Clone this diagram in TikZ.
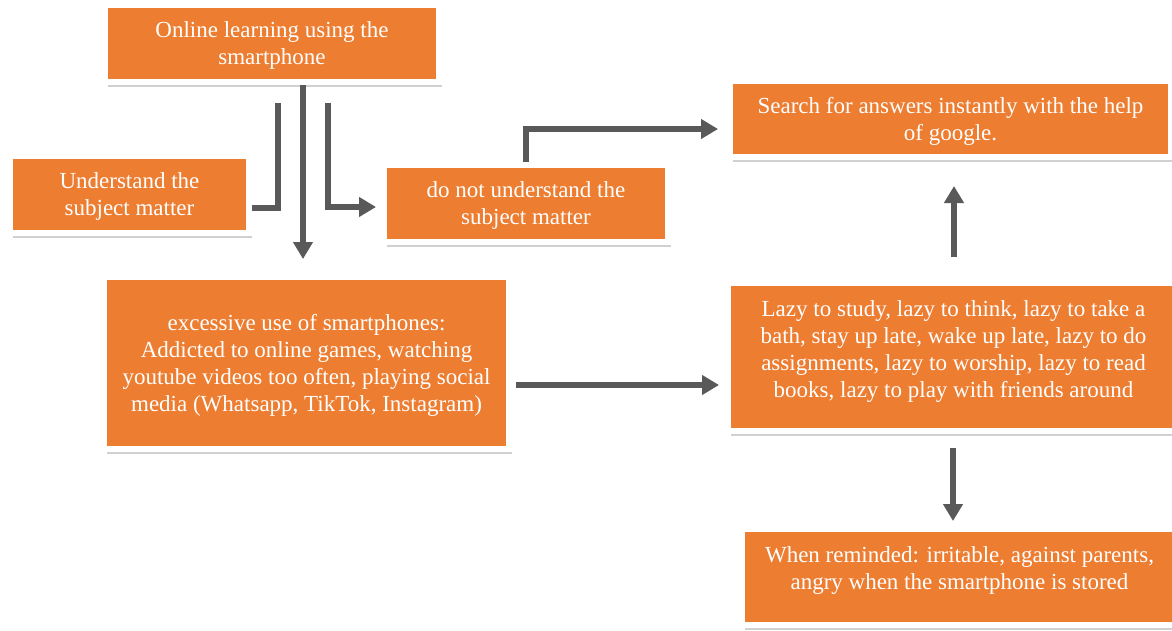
\documentclass[tikz,border=0pt]{standalone}
\usepackage{fontspec}
\setmainfont{Liberation Serif}
\usetikzlibrary{shadows}
\usetikzlibrary{arrows.meta}
\definecolor{boxorange}{HTML}{ED7D31}
\definecolor{arrowgray}{HTML}{595959}

\begin{document}
\begin{tikzpicture}
[x=1pt,y=-1pt,
box/.style={draw=white,line width=6pt,fill=boxorange,text=white,align=center,
  inner sep=0pt,font=\fontsize{23}{27}\selectfont,text depth=-5pt,
  drop shadow={shadow xshift=3pt,shadow yshift=-5pt,opacity=0.3,fill=black!60}},
higher/.style={text depth=#1},
link/.style={draw=arrowgray,line width=6pt},
arr/.style={link,-{Triangle[width=19pt,length=17pt]}}]

\useasboundingbox [fill=white] (0,0) rectangle (1172,630);

\node (online) [box,minimum width=334pt,minimum height=77pt] at (272,43.5)
  {Online learning using the\\smartphone};
\node (und) [box,minimum width=239pt,minimum height=77pt] at (129.5,194.5)
  {Understand the\\subject matter};
\node (notund) [box,minimum width=284pt,minimum height=77pt] at (526,203.5)
  {do not understand the\\subject matter};
\node (search) [box,minimum width=441pt,minimum height=76pt] at (950.5,119)
  {Search for answers instantly with the help\\of google.};
\node (exc) [box,minimum width=405pt,minimum height=172pt] at (306.5,363)
  {excessive use of smartphones:\\Addicted to online games, watching\\
   youtube videos too often, playing social\\media (Whatsapp, TikTok, Instagram)};
\node (lazy) [box,higher=16pt,minimum width=451pt,minimum height=148pt] at (953.5,357)
  {Lazy to study, lazy to think, lazy to take a\\bath, stay up late, wake up late, lazy to do\\
   assignments, lazy to worship, lazy to read\\books, lazy to play with friends around};
\node (when) [box,higher=18pt,minimum width=435pt,minimum height=96pt] at (959.5,577)
  {When reminded: irritable, against parents,\\angry when the smartphone is stored};

% branches below the first box
\draw [arr] ([xshift=31pt]online.south) -- ([xshift=-3.5pt,yshift=15pt]exc.north);
\draw [link] ([xshift=6pt,yshift=-18pt]online.south) |- ([yshift=-13.5pt]und.east);
\draw [arr] ([xshift=56pt,yshift=-18pt]online.south) |- ([xshift=-5pt,yshift=-3.5pt]notund.west);
\draw [arr] (notund.north) |- ([xshift=-9pt,yshift=-10pt]search.west);

% right column
\draw [arr] ([xshift=4pt,yshift=-22pt]exc.east) -- ([xshift=-6pt,yshift=-28pt]lazy.west);
\draw [arr] ([xshift=0.5pt,yshift=23pt]lazy.north) -- ([xshift=3.5pt,yshift=-26pt]search.south);
\draw [arr] ([xshift=-0.5pt,yshift=-14pt]lazy.south) -- ([xshift=-6.5pt,yshift=5pt]when.north);
\end{tikzpicture}
\end{document}
